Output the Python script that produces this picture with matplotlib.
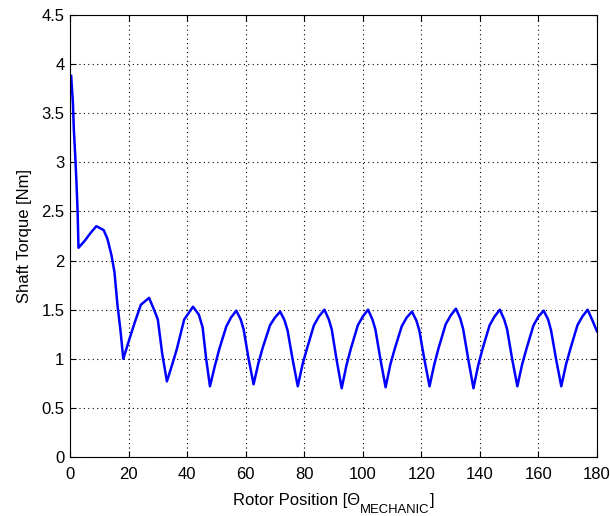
import matplotlib
matplotlib.use('Agg')
from matplotlib import pyplot as plt

plt.rcParams['font.family'] = ['Liberation Sans', 'DejaVu Sans']

# rotor position [deg] and shaft torque [Nm]
theta = [0.4, 1.0, 1.3, 1.8, 2.2, 2.6, 2.9,
         5.0, 7.0, 9.0, 11.5, 12.8, 14.2, 15.2, 16.2, 17.2, 18.2,
         20.5, 22.0, 24.2, 27.0, 28.7, 30.0, 31.5, 33.1,
         35.0, 36.5, 39.0, 42.0, 44.0, 45.3, 46.5, 47.8,
         49.5, 51.0, 53.4, 55.0, 56.8, 58.3, 59.3, 61.0, 62.7,
         64.3, 65.8, 68.3, 70.0, 71.8, 73.3, 74.3, 76.0, 77.8,
         79.4, 80.9, 83.3, 85.0, 86.9, 88.4, 89.4, 91.0, 92.8,
         94.4, 95.9, 98.3, 100.0, 101.8, 103.3, 104.3, 106.0, 107.8,
         109.4, 110.9, 113.3, 115.0, 116.8, 118.3, 119.3, 121.0, 122.8,
         124.4, 125.9, 128.3, 130.0, 131.8, 133.3, 134.3, 136.0, 137.8,
         139.4, 140.9, 143.3, 145.0, 146.8, 148.3, 149.3, 151.0, 152.8,
         154.4, 155.9, 158.3, 160.0, 161.8, 163.3, 164.3, 166.0, 167.8,
         169.4, 170.9, 173.3, 175.0, 176.8, 178.3, 180.0]
torque = [3.88, 3.60, 3.34, 3.06, 2.80, 2.50, 2.13,
          2.20, 2.28, 2.35, 2.31, 2.22, 2.05, 1.88, 1.55, 1.30, 1.00,
          1.22, 1.36, 1.55, 1.62, 1.50, 1.40, 1.05, 0.77,
          0.95, 1.10, 1.40, 1.53, 1.45, 1.32, 1.00, 0.72,
          0.93, 1.10, 1.33, 1.42, 1.49, 1.40, 1.30, 1.00, 0.74,
          0.95, 1.11, 1.34, 1.42, 1.48, 1.39, 1.29, 1.00, 0.72,
          0.94, 1.10, 1.34, 1.43, 1.50, 1.40, 1.30, 1.00, 0.70,
          0.93, 1.10, 1.34, 1.43, 1.50, 1.40, 1.30, 1.00, 0.71,
          0.94, 1.10, 1.33, 1.42, 1.48, 1.39, 1.29, 1.00, 0.72,
          0.94, 1.11, 1.35, 1.44, 1.51, 1.41, 1.30, 1.00, 0.70,
          0.93, 1.10, 1.34, 1.43, 1.50, 1.40, 1.30, 1.00, 0.72,
          0.94, 1.10, 1.34, 1.43, 1.49, 1.40, 1.29, 1.00, 0.72,
          0.94, 1.10, 1.34, 1.43, 1.50, 1.40, 1.28]

xticks = [0, 20, 40, 60, 80, 100, 120, 140, 160, 180]
yticks = [0, 0.5, 1, 1.5, 2, 2.5, 3, 3.5, 4, 4.5]
yticklabels = ['0', '0.5', '1', '1.5', '2', '2.5', '3', '3.5', '4', '4.5']

W, H = 610, 516
fig = plt.figure(figsize=(W / 100, H / 100), dpi=100)
ax = fig.add_axes([70 / W, 59 / H, 527 / W, 442 / H])

ax.plot(theta, torque, color='#0000ff', linewidth=1.8)

ax.set_xlim(0, 180)
ax.set_ylim(0, 4.5)
ax.set_xticks(xticks)
ax.set_yticks(yticks)
ax.set_yticklabels(yticklabels)
ax.grid(True, linestyle=(0, (1, 3)), color='black', linewidth=0.8)
ax.tick_params(direction='in', top=True, right=True, labelsize=12, length=4)
ax.tick_params(axis='x', pad=7)
ax.tick_params(axis='y', pad=4)
for s in ax.spines.values():
    s.set_linewidth(0.8)

ax.set_ylabel('Shaft Torque [Nm]', fontsize=12, labelpad=7)

# x label with a near full size subscript, like the MATLAB one
fig.canvas.draw()
r = fig.canvas.get_renderer()
yb = 11 / H
t1 = fig.text(0, yb, 'Rotor Position [\u0398', fontsize=12, va='baseline')
t2 = fig.text(0, yb - 8 / H, 'MECHANIC', fontsize=9.4, va='baseline')
t3 = fig.text(0, yb, ']', fontsize=12, va='baseline')
parts = [t1, t2, t3]
widths = [t.get_window_extent(r).width for t in parts]
bb = ax.get_window_extent(r)
x = (bb.x0 + bb.x1) / 2 - sum(widths) / 2
for t, w in zip(parts, widths):
    t.set_x(x / W)
    x += w

plt.savefig('out.png', dpi=100)
